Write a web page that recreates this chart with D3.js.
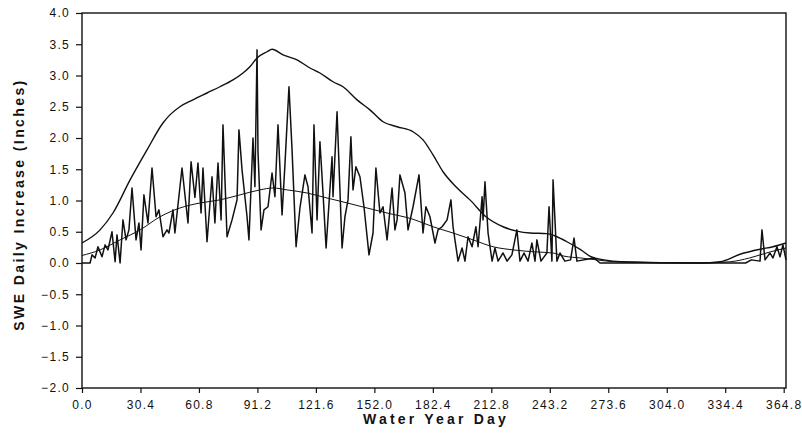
<!DOCTYPE html>
<html>
<head>
<meta charset="utf-8">
<script src="https://cdn.jsdelivr.net/npm/d3@7"></script>
<style>
  body { margin: 0; background: #fff; }
  text { font-family: "Liberation Sans", Arial, sans-serif; fill: #111; }
</style>
</head>
<body>
<div id="chart"></div>
<script>
// Daily SWE increase (spiky daily series)
const dailyDays = [0, 4.2, 5.2, 6.8, 8.3, 10.4, 12.0, 13.5, 15.6, 17.2, 18.2, 19.8, 21.3, 22.9, 24.4, 26.0,
  28.1, 29.6, 30.7, 32.2, 34.3, 36.4, 38.5, 40.0, 42.1, 44.2, 45.2, 47.3, 48.3, 52.0, 55.1, 56.7,
  58.7, 60.3, 61.9, 62.9, 65.0, 67.6, 69.1, 70.7, 72.3, 73.3, 75.4, 78.0, 80.6, 81.6, 83.2, 85.8,
  86.8, 88.9, 89.9, 91.0, 91.5, 93.1, 94.6, 96.7, 98.8, 100.3, 101.9, 104.0, 105.5, 107.6, 109.2,
  111.3, 113.3, 115.9, 117.5, 119.6, 120.6, 122.2, 123.7, 125.3, 126.9, 130.0, 130.5, 132.6, 135.2,
  136.7, 138.3, 139.8, 140.9, 142.4, 144.5, 146.6, 149.2, 151.3, 152.8, 154.9, 156.5, 158.6, 161.2,
  162.7, 163.8, 165.3, 167.9, 169.5, 172.1, 175.2, 177.3, 178.8, 180.9, 183.5, 185.1, 187.2, 189.8,
  191.8, 192.9, 195.5, 197.6, 199.1, 200.7, 202.8, 204.8, 205.9, 208.0, 208.5, 209.5, 211.1, 213.2,
  214.7, 216.3, 218.9, 221.0, 223.5, 226.1, 227.7, 229.8, 231.9, 233.9, 235.5, 236.5, 238.6, 241.7,
  242.8, 244.3, 244.9, 246.9, 248.5, 251.0, 254.0, 255.8, 257.3, 266.2, 269.3, 345.0, 348.0, 352.5,
  353.5, 355.1, 357.7, 359.2, 361.3, 362.9, 364.4, 366];
const dailyValues = [0, 0, 0.13, 0.08, 0.26, 0.10, 0.29, 0.21, 0.50, 0.02, 0.45, 0, 0.69, 0.37, 0.53, 1.20,
  0.37, 0.64, 0.21, 1.09, 0.64, 1.52, 0.74, 0.85, 0.42, 0.53, 0.48, 0.85, 0.48, 1.52, 0.64, 1.62,
  1.05, 1.60, 0.80, 1.52, 0.34, 1.38, 0.64, 1.60, 0.69, 2.21, 0.42, 0.69, 1.01, 2.13, 1.49, 0.74,
  0.37, 2.00, 1.22, 3.41, 1.78, 0.53, 0.85, 0.90, 1.44, 1.06, 2.21, 0.77, 1.57, 2.82, 1.81,
  0.26, 0.88, 1.41, 1.22, 0.48, 2.21, 0.69, 1.94, 1.12, 0.24, 1.70, 1.06, 2.42, 0.24,
  0.74, 1.01, 2.02, 1.17, 1.54, 1.38, 0.90, 0.13, 0.48, 1.52, 0.80, 0.90, 0.37, 1.20,
  0.53, 0.69, 1.41, 1.12, 0.53, 0.90, 1.41, 0.48, 0.90, 0.74, 0.32, 0.53, 0.58, 0.69,
  1.01, 0.58, 0.03, 0.24, 0.03, 0.42, 0.26, 0.58, 0.26, 1.06, 0.69, 1.30, 0.48, 0.03,
  0.24, 0.03, 0.16, 0.03, 0.13, 0.53, 0.03, 0.16, 0.03, 0.32, 0.03, 0.37, 0.03, 0.16,
  0.90, 0.03, 1.33, 0.03, 0.16, 0.03, 0.05, 0.40, 0.03, 0.08, 0, 0, 0.05, 0.03,
  0.53, 0.05, 0.16, 0.08, 0.26, 0.10, 0.29, 0.05];

// Upper smooth curve
const upperDays = [0, 9.4, 16.1, 25.0, 33.8, 42.1, 45.7, 50.9, 57.7, 65.0, 71.7, 78.5, 83.7, 87.3, 91.0,
  96.2, 98.8, 104.5, 111.8, 118.5, 123.7, 130.5, 135.7, 143.0, 149.7, 156.5, 163.8, 172.1, 177.3,
  182.5, 187.7, 194.4, 201.7, 210.0, 218.9, 226.1, 232.9, 241.7, 246.9, 252.1, 259.4, 264.6, 271.4,
  280.2, 321.3, 331.7, 342.1, 352.5, 359.2, 366];
const upperValues = [0.32, 0.53, 0.80, 1.33, 1.81, 2.24, 2.37, 2.50, 2.61, 2.72, 2.82, 2.93, 3.04, 3.14, 3.28,
  3.38, 3.42, 3.33, 3.25, 3.12, 3.04, 2.90, 2.82, 2.61, 2.45, 2.26, 2.18, 2.10, 1.97,
  1.73, 1.46, 1.22, 1.01, 0.74, 0.58, 0.51, 0.48, 0.47, 0.42, 0.34, 0.21, 0.10, 0.05,
  0.02, 0, 0.02, 0.14, 0.22, 0.26, 0.32];

// Lower smooth curve
const lowerDays = [0, 9.4, 19.8, 30.2, 40.6, 50.9, 61.3, 71.7, 82.1, 92.5, 99.3, 106.6, 117.0, 127.4, 134.1,
  148.2, 158.6, 172.1, 182.5, 192.9, 203.3, 213.7, 224.1, 234.5, 244.9, 250.6, 259.4, 267.7, 276.6,
  321.3, 337, 347, 358, 366];
const lowerValues = [0.12, 0.21, 0.37, 0.53, 0.74, 0.88, 0.96, 1.01, 1.09, 1.17, 1.20, 1.17, 1.12, 1.04, 0.99,
  0.88, 0.80, 0.70, 0.58, 0.48, 0.37, 0.26, 0.21, 0.18, 0.16, 0.11, 0.08, 0.05, 0.02,
  0, 0.02, 0.08, 0.18, 0.24];

// Tick labels
const xTicks = [0, 30.4, 60.8, 91.2, 121.6, 152.0, 182.4, 212.8, 243.2, 273.6, 304.0, 334.4, 364.8];
const yTicks = [-2.0, -1.5, -1.0, -0.5, 0.0, 0.5, 1.0, 1.5, 2.0, 2.5, 3.0, 3.5, 4.0];

const xLabel = "Water Year Day";
const yLabel = "SWE Daily Increase (Inches)";

// Size of plot
const [w, h] = [802, 439];
const [padLeft, padRight, padTop, padBottom] = [82, 786, 13, 388];
const ink = "#111";

const xScale = d3.scaleLinear().domain([0, 366]).range([padLeft, padRight]);
const yScale = d3.scaleLinear().domain([-2, 4]).range([padBottom, padTop]);

const svg = d3.select("#chart")
  .append("svg")
  .attr("width", w)
  .attr("height", h);

// Axes
const xAxis = d3.axisBottom(xScale)
  .tickValues(xTicks)
  .tickSize(5)
  .tickPadding(7)
  .tickFormat(d3.format(".1f"));

const yAxis = d3.axisLeft(yScale)
  .tickValues(yTicks)
  .tickSize(6)
  .tickPadding(6)
  .tickFormat(d => d3.format(".1f")(d).replace("-", "\u2212"));

const gx = svg.append("g")
  .attr("transform", `translate(0, ${padBottom})`)
  .call(xAxis);

const gy = svg.append("g")
  .attr("transform", `translate(${padLeft}, 0)`)
  .call(yAxis);

[gx, gy].forEach(g => {
  g.select(".domain").remove();
  g.selectAll("line").attr("stroke", ink).attr("stroke-width", 1.2);
  g.selectAll("text")
    .attr("fill", ink)
    .style("font-size", "12px")
    .style("letter-spacing", "1.3px");
});

// Frame
svg.append("rect")
  .attr("x", padLeft)
  .attr("y", padTop)
  .attr("width", padRight - padLeft)
  .attr("height", padBottom - padTop)
  .attr("fill", "none")
  .attr("stroke", ink)
  .attr("stroke-width", 1.4);

// Lines
const smooth = d3.line()
  .x(d => xScale(d[0]))
  .y(d => yScale(d[1]))
  .curve(d3.curveMonotoneX);

const jagged = d3.line()
  .x(d => xScale(d[0]))
  .y(d => yScale(d[1]));

svg.append("path")
  .datum(d3.zip(lowerDays, lowerValues))
  .attr("d", smooth)
  .attr("fill", "none")
  .attr("stroke", ink)
  .attr("stroke-width", 1);

svg.append("path")
  .datum(d3.zip(upperDays, upperValues))
  .attr("d", smooth)
  .attr("fill", "none")
  .attr("stroke", ink)
  .attr("stroke-width", 1.4);

svg.append("path")
  .datum(d3.zip(dailyDays, dailyValues))
  .attr("d", jagged)
  .attr("fill", "none")
  .attr("stroke", ink)
  .attr("stroke-width", 1.5)
  .attr("stroke-linejoin", "round");

// Axis labels
svg.append("text")
  .attr("x", (padLeft + padRight) / 2 + 2)
  .attr("y", 424)
  .attr("text-anchor", "middle")
  .style("font-size", "14px")
  .style("font-weight", "bold")
  .style("letter-spacing", "3.2px")
  .text(xLabel);

svg.append("text")
  .attr("transform", `translate(24, ${(padTop + padBottom) / 2 + 4}) rotate(-90)`)
  .attr("text-anchor", "middle")
  .style("font-size", "14px")
  .style("font-weight", "bold")
  .style("letter-spacing", "2.4px")
  .text(yLabel);
</script>
</body>
</html>
